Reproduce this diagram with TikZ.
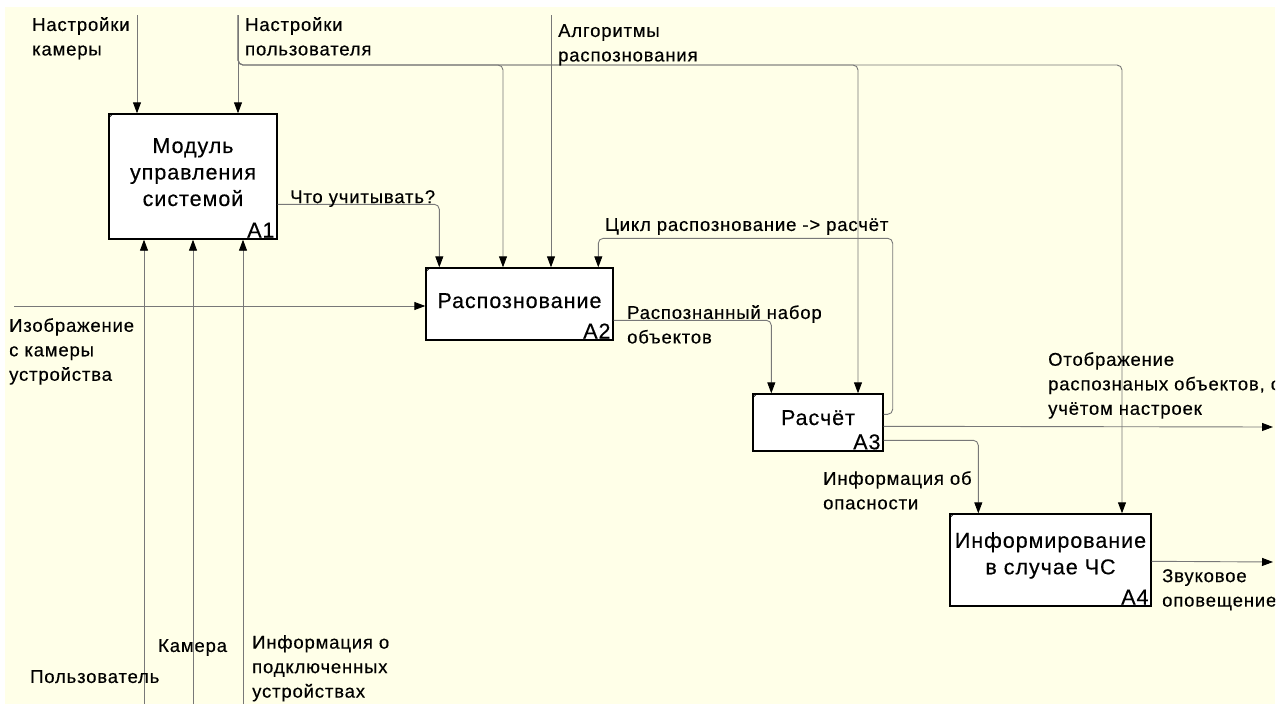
\documentclass[tikz,border=0pt]{standalone}
\usepackage{fontspec}
\setmainfont{Liberation Sans}[LetterSpace=4.5, FakeBold=0.35]
\usetikzlibrary{arrows.meta,calc}
\definecolor{cream}{RGB}{255,255,232}
\definecolor{linegray}{RGB}{120,120,120}
\tikzset{
 lbl/.style={font=\fontsize{18.5}{24.5}\selectfont, align=left, inner sep=0pt, anchor=north west},
 box/.style={draw=black, line width=1.4pt, fill=white, inner sep=0pt},
 boxtext/.style={font=\fontsize{21.5}{26.5}\selectfont, align=center, inner sep=0pt},
 boxnum/.style={font=\fontsize{21.5}{26}\selectfont, inner sep=0pt, anchor=south east},
 flow/.style={draw=linegray, line width=0.9pt, rounded corners=5pt, -{Triangle[length=11pt,width=8pt,color=black]}},
 tick/.style={draw=black, line width=0.6pt},
}
\begin{document}
\begin{tikzpicture}[x=1pt,y=-1pt]
\useasboundingbox (0,0) rectangle (1283,704);
\fill[white] (0,0) rectangle (1283,704);
\fill[cream] (5,7) rectangle (1275,704);
\begin{scope}
\clip (5,7) rectangle (1275,704);
% boxes
\node[box, minimum width=168pt, minimum height=125pt] (A1) at (193,176.5) {};
\node[box, minimum width=187pt, minimum height=72pt] (A2) at (519.5,304) {};
\node[box, minimum width=130pt, minimum height=57pt] (A3) at (818,422.5) {};
\node[box, minimum width=201pt, minimum height=92pt] (A4) at (1050.5,560) {};
\foreach \b in {A1,A2,A3,A4}
  \draw[tick] ($(\b.north west)+(0,5)$) -- ($(\b.north west)+(5,0)$);
% box texts
\node[boxtext, anchor=north] (A1t) at (193,138) {Модуль\\управления\\системой};
\node[boxtext, anchor=base] (A2t) at (519.5,308) {Распознование};
\node[boxtext, anchor=base] (A3t) at (818,425) {Расчёт};
\node[boxtext, anchor=north] (A4t) at (1050.5,532) {Информирование\\в случае ЧС};
\node[boxnum] (A1n) at ($(A1.south east)+(-3,-2)$) {A1};
\node[boxnum] (A2n) at ($(A2.south east)+(-3,-2)$) {A2};
\node[boxnum] (A3n) at ($(A3.south east)+(-3,-2)$) {A3};
\node[boxnum] (A4n) at ($(A4.south east)+(-3,-2)$) {A4};
% free ends
\coordinate (inCam) at (137,15);
\coordinate (inUser) at (238,15);
\coordinate (inAlg) at (551,15);
\coordinate (inImg) at (14,306);
\coordinate (mUser) at (144,704);
\coordinate (mCam) at (193,704);
\coordinate (mInfo) at (243,704);
\coordinate (outDisp) at (1273,427);
\coordinate (outSnd) at (1273,562);
\coordinate (j2) at (503,65);
\coordinate (j3) at (858,65);
\coordinate (j4) at (1122,65);
% connectors
\draw[flow] (inCam) -- (inCam |- A1.north);
\draw[flow] (inUser) -- (inUser |- A1.north);
\draw[flow] (inUser) |- (j2) -- (j2 |- A2.north);
\draw[flow] (inUser) |- (j3) -- (j3 |- A3.north);
\draw[flow] (inUser) |- (j4) -- (j4 |- A4.north);
\draw[flow] (inAlg) -- (inAlg |- A2.north);
\draw[flow] (inImg) -- (inImg -| A2.west);
\draw[flow] (mUser) -- (mUser |- A1.south);
\draw[flow] (mCam) -- (mCam |- A1.south);
\draw[flow] (mInfo) -- (mInfo |- A1.south);
\draw[flow] ($(A1.north east)+(0,91)$) -| ($(A2.north west)+(14,0)$);
\draw[flow] ($(A3.north east)+(0,21)$) -| ($(A3.north east)+(9,-155)$) -| ($(A2.north west)+(173,0)$);
\draw[flow] ($(A2.north east)+(0,53)$) -| ($(A3.north west)+(19,0)$);
\draw[flow] ($(A3.north east)+(0,33)$) -- (outDisp);
\draw[flow] ($(A3.north east)+(0,47)$) -| ($(A4.north west)+(29,0)$);
\draw[flow] ($(A4.north east)+(0,48)$) -- (outSnd);
% labels
\node[lbl] (lCam) at (32,17) {Настройки\\камеры};
\node[lbl] (lUser) at (245,17) {Настройки\\пользователя};
\node[lbl] (lAlg) at (558,24) {Алгоритмы\\распознования};
\node[lbl] (lWhat) at (290,190) {Что учитывать?};
\node[lbl] (lLoop) at (605,218) {Цикл распознование -> расчёт};
\node[lbl] (lSet) at (627,305) {Распознанный набор\\объектов};
\node[lbl] (lImg) at (9,318) {Изображение\\с камеры\\устройства};
\node[lbl] (lPers) at (30,670) {Пользователь};
\node[lbl] (lCamera) at (158,639) {Камера};
\node[lbl] (lDev) at (252,635) {Информация о\\подключенных\\устройствах};
\node[lbl] (lDisp) at (1048,352) {Отображение\\распознаных объектов, с\\учётом настроек};
\node[lbl] (lDang) at (823,471) {Информация об\\опасности};
\node[lbl] (lSnd) at (1162,569) {Звуковое\\оповещение};
\end{scope}
\end{tikzpicture}
\end{document}
